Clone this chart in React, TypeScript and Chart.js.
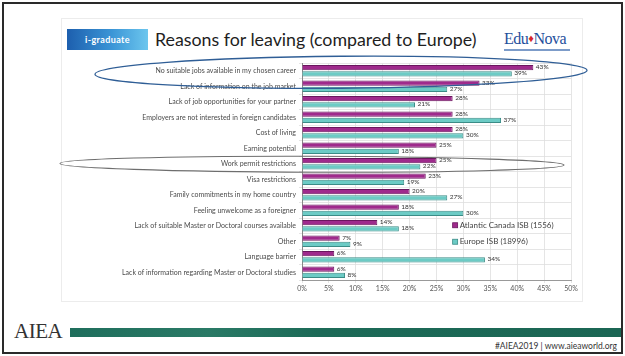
import React, { useEffect, useRef } from "react";
import { Chart, registerables } from "chart.js";

Chart.register(...registerables);

const categories = [
  "No suitable jobs available in my chosen career",
  "Lack of information on the job market",
  "Lack of job opportunities for your partner",
  "Employers are not interested in foreign candidates",
  "Cost of living",
  "Earning potential",
  "Work permit restrictions",
  "Visa restrictions",
  "Family commitments in my home country",
  "Feeling unwelcome as a foreigner",
  "Lack of suitable Master or Doctoral courses available",
  "Other",
  "Language barrier",
  "Lack of information regarding Master or Doctoral studies",
];

const atlanticCanada = [43, 33, 28, 28, 28, 25, 25, 23, 20, 18, 14, 7, 6, 6];
const europe = [39, 27, 21, 37, 30, 18, 22, 19, 27, 30, 18, 9, 34, 8];

const seriesNames = ["Atlantic Canada ISB (1556)", "Europe ISB (18996)"];
const xTickValues = [0, 5, 10, 15, 20, 25, 30, 35, 40, 45, 50];

const MAGENTA = "#9f2a8c";
const MAGENTA_BORDER = "#6a165e";
const CYAN = "#6ccbc5";
const CYAN_BORDER = "#3b8c87";
const FONT = "Lato, 'Open Sans', sans-serif";

const overlayPlugin = {
  id: "overlay",
  afterDatasetsDraw(chart: any) {
    const ctx = chart.ctx;
    const area = chart.chartArea;
    const yScale = chart.scales.y;
    ctx.save();
    // data labels
    ctx.font = `6.5px ${FONT}`;
    ctx.fillStyle = "#333";
    ctx.textBaseline = "middle";
    ctx.textAlign = "left";
    chart.data.datasets.forEach((ds: any, i: number) => {
      const meta = chart.getDatasetMeta(i);
      meta.data.forEach((bar: any, j: number) => {
        ctx.fillText(ds.data[j] + "%", bar.x + 2.5, bar.y - 0.5);
      });
    });
    // legend
    const lx = area.left + area.width * 0.56;
    const ly1 = yScale.getPixelForValue(10) - 0.5;
    const ly2 = yScale.getPixelForValue(11) + 0.5;
    ctx.font = `8px ${FONT}`;
    const colors = [
      [MAGENTA, MAGENTA_BORDER],
      [CYAN, CYAN_BORDER],
    ];
    [ly1, ly2].forEach((ly, i) => {
      ctx.fillStyle = colors[i][0];
      ctx.fillRect(lx, ly - 2.5, 5, 5);
      ctx.strokeStyle = colors[i][1];
      ctx.lineWidth = 0.8;
      ctx.strokeRect(lx, ly - 2.5, 5, 5);
      ctx.fillStyle = "#444";
      ctx.fillText(seriesNames[i], lx + 7, ly);
    });
    // ellipses
    const y0 = yScale.getPixelForValue(0);
    ctx.beginPath();
    ctx.strokeStyle = "#2f5e96";
    ctx.lineWidth = 1.3;
    ctx.ellipse(341, y0 + 1.5, 246, 16, -0.008, 0, Math.PI * 2);
    ctx.stroke();
    const y6 = yScale.getPixelForValue(6);
    ctx.beginPath();
    ctx.strokeStyle = "#6e6e6e";
    ctx.lineWidth = 1.1;
    ctx.ellipse(312, y6 + 0.5, 252, 8, 0.003, 0, Math.PI * 2);
    ctx.stroke();
    ctx.restore();
  },
};

function ChartCanvas() {
  const ref = useRef<HTMLCanvasElement | null>(null);
  useEffect(() => {
    if (!ref.current) return;
    const chart = new Chart(ref.current, {
      type: "bar",
      data: {
        labels: categories,
        datasets: [
          {
            label: seriesNames[0],
            data: atlanticCanada,
            backgroundColor: MAGENTA,
            borderColor: MAGENTA_BORDER,
            borderWidth: 1,
            categoryPercentage: 0.8,
            barPercentage: 0.85,
          },
          {
            label: seriesNames[1],
            data: europe,
            backgroundColor: CYAN,
            borderColor: CYAN_BORDER,
            borderWidth: 1,
            categoryPercentage: 0.8,
            barPercentage: 0.85,
          },
        ],
      },
      options: {
        indexAxis: "y",
        responsive: false,
        animation: false,
        devicePixelRatio: 1,
        layout: { padding: { top: 63, right: 54, bottom: 61, left: 0 } },
        plugins: {
          legend: { display: false },
          tooltip: { enabled: false },
        },
        scales: {
          x: {
            min: 0,
            max: 50,
            afterBuildTicks: (scale: any) => {
              scale.ticks = xTickValues.map((v) => ({ value: v }));
            },
            afterFit: (scale: any) => {
              scale.height = 15;
            },
            ticks: {
              callback: (v: any) => v + "%",
              font: { size: 7, family: FONT },
              color: "#555",
              padding: 2,
              maxRotation: 0,
            },
            grid: { color: "#dedede", tickLength: 3, lineWidth: 0.8 },
            border: { color: "#999", width: 1 },
          },
          y: {
            afterFit: (scale: any) => {
              scale.width = 302;
            },
            ticks: {
              font: { size: 7, family: FONT },
              color: "#4a4a4a",
              padding: 3,
              autoSkip: false,
            },
            grid: { color: "#dedede", tickLength: 3, lineWidth: 0.8 },
            border: { color: "#888", width: 1 },
          },
        },
      },
      plugins: [overlayPlugin],
    } as any);
    return () => chart.destroy();
  }, []);
  return (
    <canvas
      ref={ref}
      width={625}
      height={356}
      style={{ position: "absolute", left: 0, top: 0, width: 625, height: 356 }}
    />
  );
}

export default function App() {
  return (
    <div
      style={{
        position: "absolute",
        left: 0,
        top: 0,
        width: 625,
        height: 356,
        background: "#fff",
        overflow: "hidden",
        fontFamily: FONT,
      }}
    >
      {/* outer frame */}
      <div
        style={{
          position: "absolute",
          left: 2,
          top: 2,
          width: 617,
          height: 348,
          border: "2px solid #2a2a2a",
        }}
      />
      {/* inner slide panel */}
      <div
        style={{
          position: "absolute",
          left: 61,
          top: 18,
          width: 520,
          height: 282,
          border: "1px solid #ececec",
        }}
      />
      {/* i-graduate box */}
      <div
        style={{
          position: "absolute",
          left: 67,
          top: 29,
          width: 81,
          height: 21,
          background: "linear-gradient(90deg, #1d5fae 0%, #3b95d6 55%, #6cc6ee 100%)",
          color: "#fff",
          fontSize: 9,
          fontWeight: 700,
          lineHeight: "21px",
          textAlign: "center",
          letterSpacing: 0.4,
        }}
      >
        i-graduate
      </div>
      {/* title */}
      <div
        style={{
          position: "absolute",
          left: 155,
          top: 28,
          fontSize: 17.8,
          color: "#1e1e1e",
          whiteSpace: "nowrap",
          lineHeight: "22px",
        }}
      >
        Reasons for leaving (compared to Europe)
      </div>
      {/* EduNova logo */}
      <div
        style={{
          position: "absolute",
          left: 504,
          top: 29,
          width: 70,
          whiteSpace: "nowrap",
          fontFamily: "'Liberation Serif', serif",
          fontSize: 16,
          color: "#1f4f9c",
          lineHeight: "18px",
          letterSpacing: -0.5,
        }}
      >
        Edu
        <span style={{ color: "#d7262a", fontSize: 11, verticalAlign: 2 }}>♦</span>
        Nova
        <div style={{ height: 1.5, width: 66, background: "#7d9cc9", marginTop: 1 }} />
      </div>
      {/* footer */}
      <div
        style={{
          position: "absolute",
          left: 14,
          top: 320,
          fontFamily: "'Liberation Serif', serif",
          fontSize: 21,
          color: "#333",
          lineHeight: "22px",
          letterSpacing: -0.5,
        }}
      >
        AIEA
      </div>
      <div
        style={{
          position: "absolute",
          left: 70,
          top: 328,
          width: 551,
          height: 9,
          background: "linear-gradient(90deg, #1f6e5c 0%, #2a7a66 25%, #1c6a57 45%, #1b6654 100%)",
        }}
      />
      <div
        style={{
          position: "absolute",
          right: 8,
          top: 341,
          fontSize: 8.5,
          color: "#333",
          lineHeight: "10px",
          whiteSpace: "nowrap",
        }}
      >
        #AIEA2019 | www.aieaworld.org
      </div>
      <ChartCanvas />
    </div>
  );
}
